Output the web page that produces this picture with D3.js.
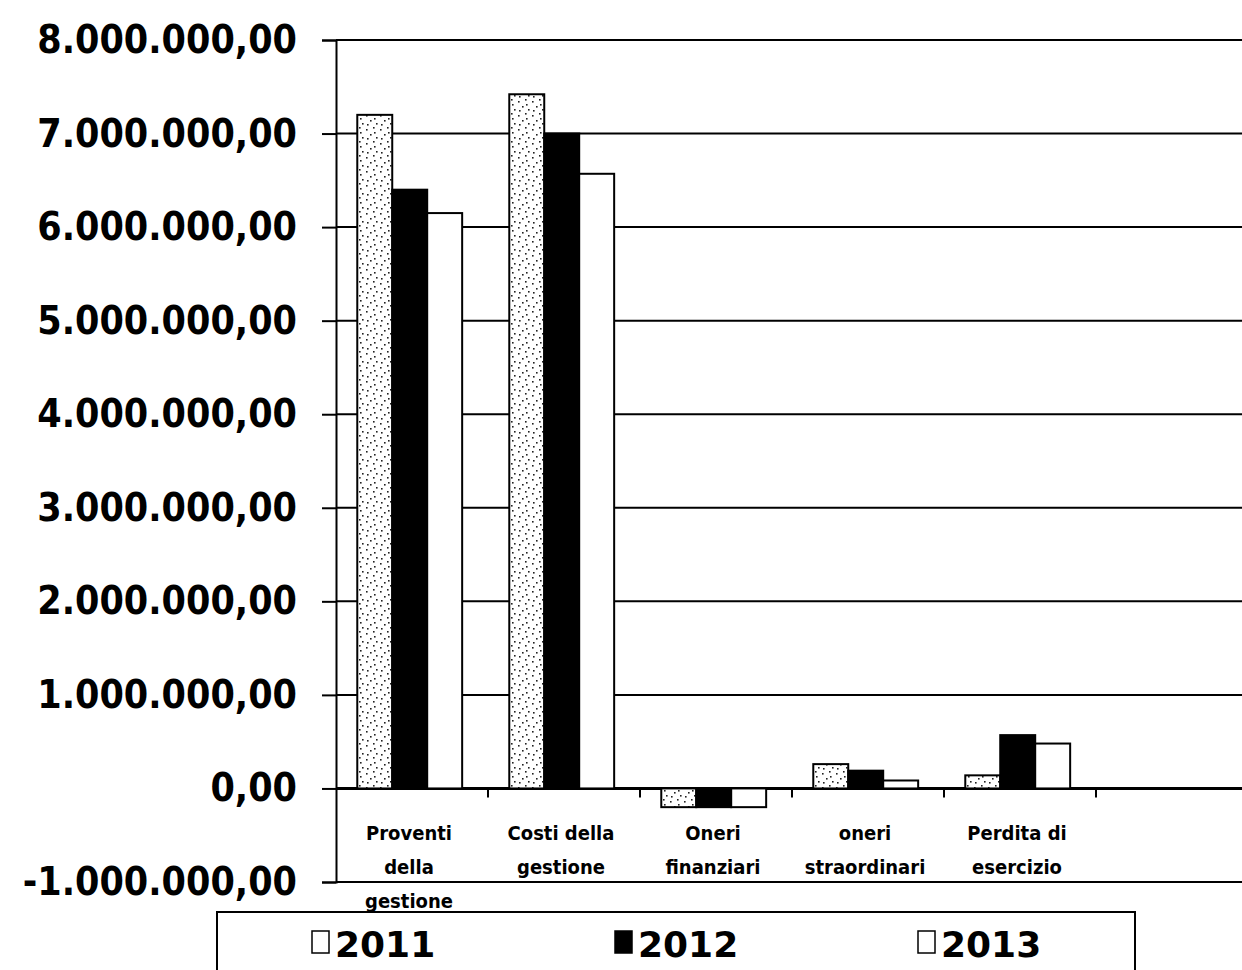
<!DOCTYPE html>
<html>
<head>
<meta charset="utf-8">
<script src="https://cdn.jsdelivr.net/npm/d3@7"></script>
<style>
  body { margin: 0; background: #fff; }
  svg { display: block; }
  .tick-label { font-family: "DejaVu Sans Condensed", "DejaVu Sans", sans-serif; font-weight: bold; font-size: 39px; }
  .cat-label { font-family: "DejaVu Sans Condensed", "DejaVu Sans", sans-serif; font-weight: bold; font-size: 20px; }
  .legend-label { font-family: "DejaVu Sans", sans-serif; font-weight: bold; font-size: 36px; }
</style>
</head>
<body>
<div id="chart"></div>
<script>
// data
var categories = ["Proventi della gestione", "Costi della gestione", "Oneri finanziari", "oneri straordinari", "Perdita di esercizio", ""];
var categoryLines = [["Proventi", "della", "gestione"], ["Costi della", "gestione"], ["Oneri", "finanziari"], ["oneri", "straordinari"], ["Perdita di", "esercizio"], []];
var series = ["2011", "2012", "2013"];
var values2011 = [7200000, 7420000, -200000, 260000, 140000];
var values2012 = [6400000, 7000000, -200000, 190000, 570000];
var values2013 = [6150000, 6570000, -200000, 85000, 480000];
var yTicks = [-1000000, 0, 1000000, 2000000, 3000000, 4000000, 5000000, 6000000, 7000000, 8000000];

var width = 1242, height = 970;
var plotLeft = 336, plotRight = 1248, plotTop = 40, plotBottom = 882;

var svg = d3.select("#chart").append("svg")
  .attr("width", width)
  .attr("height", height);

// speckled fill used for 2011
var defs = svg.append("defs");
var pat = defs.append("pattern")
  .attr("id", "speckle")
  .attr("patternUnits", "userSpaceOnUse")
  .attr("width", 14).attr("height", 14);
pat.append("rect").attr("width", 14).attr("height", 14).attr("fill", "#fff");
[[2, 3], [9, 1], [6, 8], [12, 11], [3, 12], [10, 6]].forEach(function (p) {
  pat.append("rect").attr("x", p[0]).attr("y", p[1]).attr("width", 1.6).attr("height", 1.6).attr("fill", "#222");
});

var fills = { "2011": "url(#speckle)", "2012": "#000", "2013": "#fff" };
var valuesBySeries = { "2011": values2011, "2012": values2012, "2013": values2013 };

var x0 = d3.scaleBand().domain(categories).range([plotLeft, plotRight]).padding(0);
var bw = x0.bandwidth();
var x1 = d3.scaleBand().domain(series).range([bw * 0.14, bw * 0.83]).padding(0);
var y = d3.scaleLinear().domain([-1000000, 8000000]).range([plotBottom, plotTop]);

var it = d3.formatLocale({ decimal: ",", thousands: ".", grouping: [3], currency: ["€", ""], minus: "-" });
var fmt = it.format(",.2f");

// gridlines
svg.append("g")
  .selectAll("line")
  .data(yTicks)
  .join("line")
  .attr("x1", plotLeft).attr("x2", width)
  .attr("y1", function (d) { return y(d); })
  .attr("y2", function (d) { return y(d); })
  .attr("stroke", "#000")
  .attr("stroke-width", function (d) { return d === 0 ? 3 : 2; });

// bars
var groups = svg.append("g")
  .selectAll("g")
  .data(categories.slice(0, 5))
  .join("g")
  .attr("transform", function (d) { return "translate(" + x0(d) + ",0)"; });

groups.selectAll("rect")
  .data(function (d, i) { return series.map(function (s) { return { s: s, v: valuesBySeries[s][i] }; }); })
  .join("rect")
  .attr("x", function (d) { return x1(d.s); })
  .attr("width", x1.bandwidth())
  .attr("y", function (d) { return y(Math.max(0, d.v)); })
  .attr("height", function (d) { return Math.abs(y(d.v) - y(0)); })
  .attr("fill", function (d) { return fills[d.s]; })
  .attr("stroke", "#000")
  .attr("stroke-width", 2);

// y axis
var yAxis = d3.axisLeft(y).tickValues(yTicks).tickSize(14).tickFormat(fmt);
var gy = svg.append("g")
  .attr("transform", "translate(" + plotLeft + ",0)")
  .call(yAxis);
gy.select(".domain").attr("stroke", "#000").attr("stroke-width", 2);
gy.selectAll(".tick line").attr("stroke", "#000").attr("stroke-width", 2);
gy.selectAll(".tick text")
  .attr("class", "tick-label")
  .attr("x", -39)
  .attr("fill", "#000");

// category ticks on the zero line
svg.append("g")
  .selectAll("line")
  .data(categories.slice(1))
  .join("line")
  .attr("x1", function (d) { return x0(d); })
  .attr("x2", function (d) { return x0(d); })
  .attr("y1", y(0)).attr("y2", y(0) + 9)
  .attr("stroke", "#000").attr("stroke-width", 2);

// category labels
var labels = svg.append("g")
  .selectAll("text")
  .data(categories)
  .join("text")
  .attr("class", "cat-label")
  .attr("text-anchor", "middle")
  .attr("x", function (d) { return x0(d) + bw / 2 - 3; })
  .attr("y", 840);
labels.selectAll("tspan")
  .data(function (d, i) { return categoryLines[i]; })
  .join("tspan")
  .attr("x", function () { return d3.select(this.parentNode).attr("x"); })
  .attr("dy", function (d, i) { return i === 0 ? 0 : 34; })
  .text(function (d) { return d; });

// legend
var legend = svg.append("g");
legend.append("rect")
  .attr("x", 217).attr("y", 912)
  .attr("width", 918).attr("height", 80)
  .attr("fill", "none").attr("stroke", "#000").attr("stroke-width", 2);

var legendX = d3.scalePoint().domain(series).range([312, 918]);
var items = legend.selectAll("g.item")
  .data(series)
  .join("g")
  .attr("class", "item")
  .attr("transform", function (d) { return "translate(" + legendX(d) + ",0)"; });
items.append("rect")
  .attr("x", 0).attr("y", 931)
  .attr("width", 17).attr("height", 22)
  .attr("fill", function (d) { return d === "2012" ? "#000" : "#fff"; })
  .attr("stroke", "#000").attr("stroke-width", 1.5);
items.append("text")
  .attr("class", "legend-label")
  .attr("x", 23).attr("y", 957)
  .text(function (d) { return d; });
</script>
</body>
</html>
